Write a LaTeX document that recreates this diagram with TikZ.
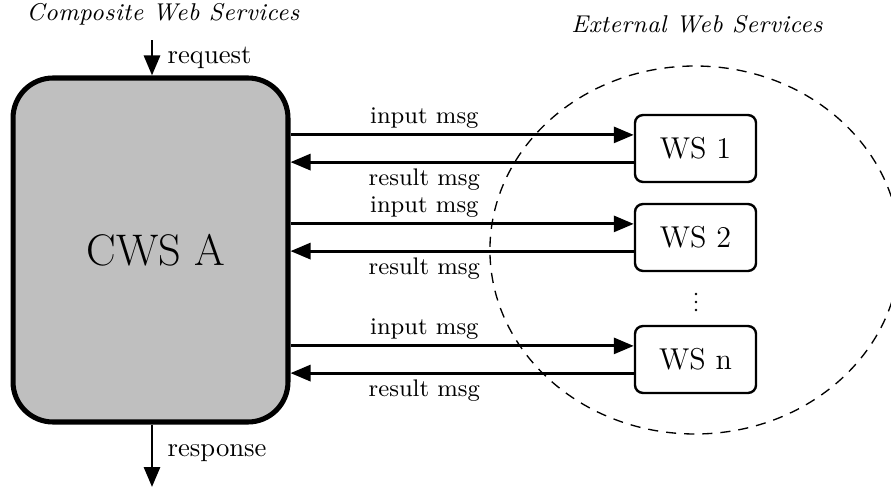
\documentclass[tikz,border=0pt]{standalone}
\usepackage{fontspec}
\newfontfamily\titlefont[LetterSpace=2]{Latin Modern Roman}
\usetikzlibrary{arrows.meta,calc}
\begin{document}
\begin{tikzpicture}[x=0.375pt,y=-0.375pt,
  msgarrow/.style={line width=1.1pt,-{Triangle[length=7.5pt,width=6pt]}},
  msglabel/.style={font=\fontsize{9}{11}\selectfont,inner sep=2pt},
  wsbox/.style={draw,line width=0.9pt,rounded corners=3pt,minimum width=45.4pt,
    minimum height=25.1pt,inner sep=0pt,font=\fontsize{11.3}{13}\selectfont},
  grouptitle/.style={font=\titlefont\itshape\fontsize{9.1}{10}\selectfont},
  dot/.style={circle,fill,inner sep=0pt,minimum size=1.1pt}]
\useasboundingbox (0,0) rectangle (891,489);
\clip (0,0) rectangle (891,489);

% group titles
\node[grouptitle] (tcomp) at (163,14) {Composite Web Services};
\node[grouptitle] (text) at (697,24) {External Web Services};

% boundary of the external services
\draw[dash pattern=on 3.8pt off 3pt,line width=0.5pt] (695,250) ellipse [x radius=76.9pt,y radius=69pt];

% composite service
\node[draw,line width=1.9pt,fill=black!25,rounded corners=15pt,
  minimum width=103.1pt,minimum height=129pt,inner sep=0pt] (cws) at (150.5,250) {};
\node[font=\fontsize{16.6}{20}\selectfont] (cwsname) at (156,250) {CWS A};

% external services
\node[wsbox] (ws1) at (695.5,148.5) {WS 1};
\node[wsbox] (ws2) at (695.5,237.5) {WS 2};
\node[wsbox] (wsn) at (695.5,359.5) {WS n};
\node[dot] (d1) at (696,294) {};
\node[dot] (d2) at (696,302) {};
\node[dot] (d3) at (696,310) {};

% request / response
\coordinate (req) at (152,40);
\coordinate (resp) at (152,487);
\draw[msgarrow] (req) -- (req |- cws.north) node[midway,right,xshift=2pt] {request};
\draw[msgarrow] (resp |- cws.south) -- (resp) node[pos=0.45,right,xshift=2pt] {response};

% message exchanges
\foreach \w in {ws1,ws2,wsn}{
  \draw[msgarrow] (cws.east |- {$(\w.west)+(0,5.1pt)$}) -- ($(\w.west)+(0,5.1pt)$)
    node[msglabel,pos=0.39,above] {input msg};
  \draw[msgarrow] ($(\w.west)+(0,-5.1pt)$) -- (cws.east |- {$(\w.west)+(0,-5.1pt)$})
    node[msglabel,pos=0.61,below] {result msg};
}
\end{tikzpicture}
\end{document}
